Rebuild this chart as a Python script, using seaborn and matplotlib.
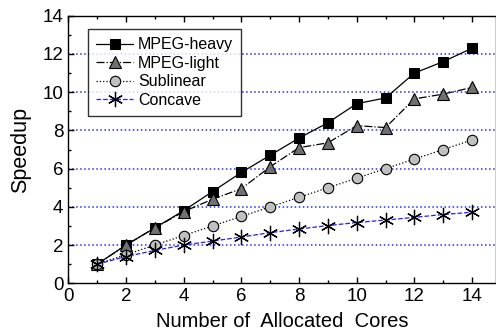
import matplotlib
matplotlib.use('Agg')
import matplotlib.pyplot as plt
import seaborn as sns
from matplotlib.ticker import MultipleLocator

# data
cores = [1, 2, 3, 4, 5, 6, 7, 8, 9, 10, 11, 12, 13, 14]
mpeg_heavy = [1.0, 2.0, 2.9, 3.8, 4.8, 5.8, 6.7, 7.6, 8.4, 9.4, 9.7, 11.0, 11.6, 12.3]
mpeg_light = [1.0, 2.0, 2.9, 3.75, 4.4, 4.95, 6.1, 7.1, 7.35, 8.25, 8.15, 9.65, 9.9, 10.25]
sublinear = [1.0, 1.5, 2.0, 2.5, 3.0, 3.5, 4.0, 4.5, 5.0, 5.5, 6.0, 6.5, 7.0, 7.5]
concave = [1.0, 1.4, 1.72, 2.0, 2.21, 2.42, 2.65, 2.84, 3.02, 3.18, 3.31, 3.45, 3.6, 3.72]

sns.set_style('ticks')
plt.rcParams['font.family'] = ['Liberation Sans', 'DejaVu Sans']
plt.rcParams['text.color'] = 'black'
plt.rcParams['axes.labelcolor'] = 'black'

fig = plt.figure(figsize=(4.96, 3.34), dpi=100)
ax = fig.add_axes([0.1377, 0.1518, 0.8623, 0.801])

# grid lines
for yv in [2, 4, 6, 8, 10, 12]:
    ax.axhline(yv, color='#2a2aff', linestyle=':', linewidth=1.1, zorder=0)

sns.lineplot(x=cores, y=mpeg_heavy, ax=ax, color='black', linestyle='-', linewidth=0.9,
             marker='s', markersize=7, markerfacecolor='black', markeredgecolor='black',
             label='MPEG-heavy')
sns.lineplot(x=cores, y=mpeg_light, ax=ax, color='black', linestyle='-.', linewidth=0.9,
             marker='^', markersize=9, markerfacecolor='#707070', markeredgecolor='black',
             markeredgewidth=0.8, label='MPEG-light')
sns.lineplot(x=cores, y=sublinear, ax=ax, color='black', linestyle=':', linewidth=0.9,
             marker='o', markersize=7.5, markerfacecolor='#c0c0c0', markeredgecolor='black',
             markeredgewidth=0.8, label='Sublinear')
sns.lineplot(x=cores, y=concave, ax=ax, color='#2020ff', linestyle='--', linewidth=0.9,
             marker=(6, 2, 0), markersize=11, markeredgecolor='black',
             markeredgewidth=0.9, label='Concave')

ax.set_xlim(0, 14.83)
ax.set_ylim(0, 14)
ax.xaxis.set_major_locator(MultipleLocator(2))
ax.xaxis.set_minor_locator(MultipleLocator(1))
ax.yaxis.set_major_locator(MultipleLocator(2))
ax.yaxis.set_minor_locator(MultipleLocator(1))
ax.tick_params(which='both', direction='in', top=True, right=False, width=1.0, colors='black')
ax.tick_params(which='major', length=4, labelsize=13.5, pad=3.5)
ax.tick_params(which='minor', length=2)
for s in ax.spines.values():
    s.set_color('black')
    s.set_linewidth(1.0)

ax.set_xlabel('Number of  Allocated  Cores', fontsize=14.5, labelpad=5)
ax.set_ylabel('Speedup', fontsize=15.5, labelpad=8)

leg = ax.legend(loc='upper left', bbox_to_anchor=(0.047, 0.95), borderaxespad=0,
                fontsize=11.5, frameon=True, fancybox=False, handlelength=2.3,
                handletextpad=0.32, labelspacing=0.22, borderpad=0.5)
leg.get_frame().set_edgecolor('black')
leg.get_frame().set_linewidth(1.0)

fig.savefig('out.png', dpi=100)
